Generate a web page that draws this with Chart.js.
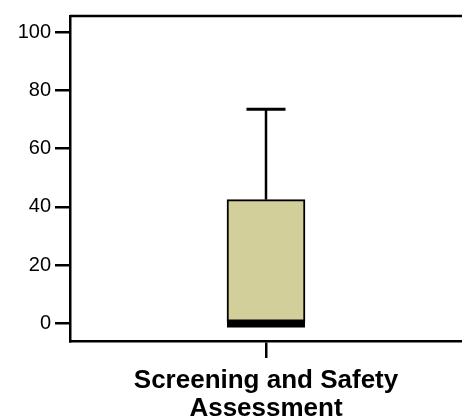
<!DOCTYPE html>
<html>
<head>
<meta charset="utf-8">
<script src="https://cdn.jsdelivr.net/npm/chart.js@4/dist/chart.umd.min.js"></script>
<style>
  body { margin: 0; background: #fff; }
  #wrap { width: 462px; height: 420px; }
</style>
</head>
<body>
<div id="wrap"><canvas id="box-chart" width="462" height="420"></canvas></div>
<script>
// box plot values, one entry per category
var categories = [["Screening and Safety", "Assessment"]];
var minVals = [0];
var q1Vals = [0];
var medianVals = [0];
var q3Vals = [42.5];
var maxVals = [73.5];
var yTicks = [0, 20, 40, 60, 80, 100];

Chart.defaults.font.family = "Arial, 'Liberation Sans', sans-serif";
Chart.defaults.color = "#000";

// whiskers, median band and the top frame line
var boxWhiskers = {
  id: "boxWhiskers",
  afterDatasetsDraw: function (chart) {
    var ctx = chart.ctx;
    var xs = chart.scales.x;
    var ys = chart.scales.y;
    var area = chart.chartArea;
    var meta = chart.getDatasetMeta(0);
    ctx.save();
    ctx.strokeStyle = "#000";
    categories.forEach(function (c, i) {
      var x = xs.getPixelForValue(i);
      var half = meta.data[i].width / 2;
      ctx.lineWidth = 2.5;
      ctx.beginPath();
      ctx.moveTo(x, ys.getPixelForValue(q3Vals[i]));
      ctx.lineTo(x, ys.getPixelForValue(maxVals[i]));
      ctx.moveTo(x, ys.getPixelForValue(q1Vals[i]));
      ctx.lineTo(x, ys.getPixelForValue(minVals[i]));
      ctx.stroke();
      ctx.lineWidth = 3;
      ctx.beginPath();
      ctx.moveTo(x - half / 2, ys.getPixelForValue(maxVals[i]));
      ctx.lineTo(x + half / 2, ys.getPixelForValue(maxVals[i]));
      if (minVals[i] !== q1Vals[i]) {
        ctx.moveTo(x - half / 2, ys.getPixelForValue(minVals[i]));
        ctx.lineTo(x + half / 2, ys.getPixelForValue(minVals[i]));
      }
      ctx.stroke();
      ctx.lineWidth = 8;
      ctx.beginPath();
      ctx.moveTo(x - half, ys.getPixelForValue(medianVals[i]));
      ctx.lineTo(x + half, ys.getPixelForValue(medianVals[i]));
      ctx.stroke();
    });
    ctx.lineWidth = 2.5;
    ctx.beginPath();
    ctx.moveTo(area.left, area.top);
    ctx.lineTo(area.right, area.top);
    ctx.stroke();
    ctx.restore();
  },
};

var boxChart = new Chart(document.getElementById("box-chart"), {
  type: "bar",
  data: {
    labels: categories,
    datasets: [
      {
        data: q1Vals.map(function (q1, i) {
          return [q1, q3Vals[i]];
        }),
        backgroundColor: "#d3cf9b",
        borderColor: "#000",
        borderWidth: 2,
        borderSkipped: false,
        barThickness: 78,
      },
    ],
  },
  options: {
    responsive: false,
    animation: false,
    layout: { padding: { top: 13, right: 0, left: 0, bottom: 0 } },
    plugins: {
      legend: { display: false },
      tooltip: { enabled: false },
    },
    scales: {
      x: {
        grid: {
          offset: false,
          drawOnChartArea: false,
          drawTicks: true,
          tickLength: 17,
          color: "#000",
          lineWidth: 2.5,
        },
        border: { color: "#000", width: 2.5 },
        ticks: {
          padding: 9,
          maxRotation: 0,
          font: { size: 26, weight: "bold", lineHeight: 1.08 },
        },
        afterFit: function (scale) {
          scale.height = 79;
        },
      },
      y: {
        min: -6,
        max: 105.5,
        grid: {
          drawOnChartArea: false,
          drawTicks: true,
          tickLength: 15,
          color: "#000",
          lineWidth: 2.5,
        },
        border: { color: "#000", width: 2.5 },
        ticks: {
          padding: 4,
          font: { size: 20 },
        },
        afterBuildTicks: function (scale) {
          scale.ticks = yTicks.map(function (v) {
            return { value: v };
          });
        },
        afterFit: function (scale) {
          scale.width = 70;
        },
      },
    },
  },
  plugins: [boxWhiskers],
});
</script>
</body>
</html>
